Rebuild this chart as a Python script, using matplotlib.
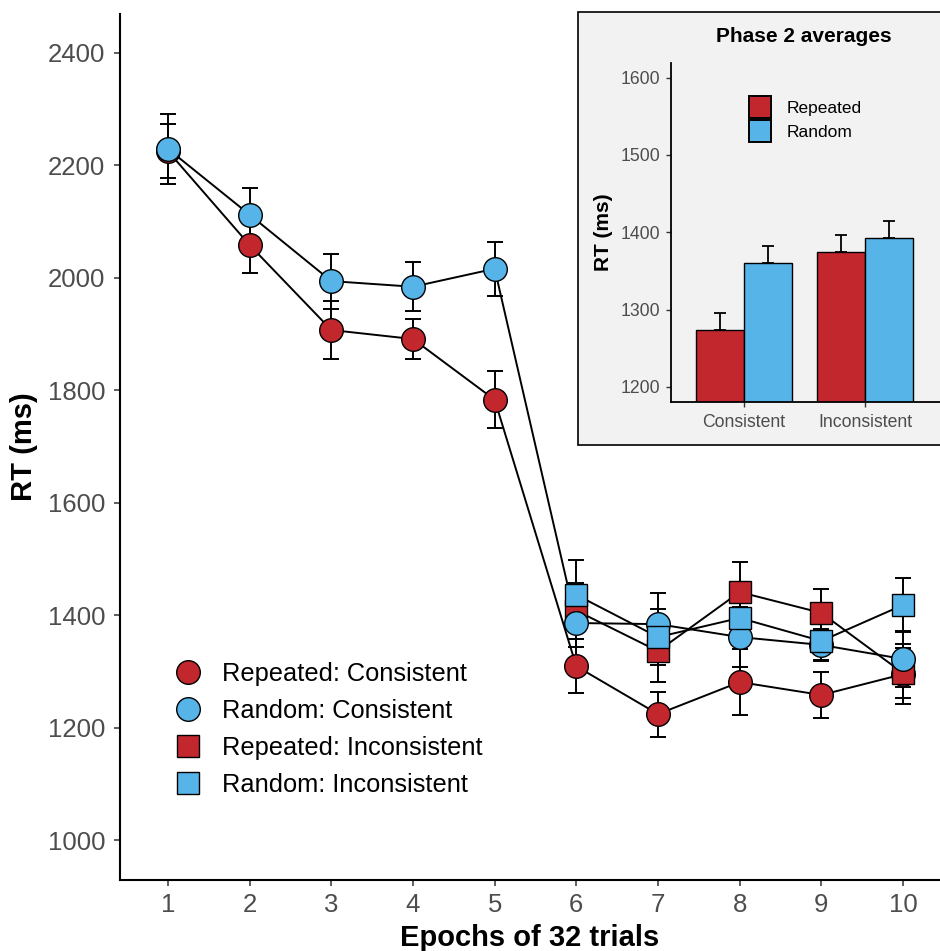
import matplotlib
matplotlib.use("Agg")
import matplotlib.pyplot as plt
from matplotlib.lines import Line2D
from matplotlib.patches import Rectangle
import numpy as np

plt.rcParams['font.family'] = ['Liberation Sans', 'DejaVu Sans']

# ---- data ----
epochs = [1, 2, 3, 4, 5, 6, 7, 8, 9, 10]
rep_con = [2225, 2058, 1907, 1891, 1783, 1309, 1224, 1281, 1258, 1295]
rep_con_se = [48, 49, 51, 36, 51, 48, 40, 59, 41, 53]
ran_con = [2229, 2112, 1994, 1984, 2016, 1386, 1384, 1361, 1347, 1322]
ran_con_se = [63, 48, 49, 44, 48, 43, 55, 53, 28, 50]
epochs_inc = [6, 7, 8, 9, 10]
rep_inc = [1408, 1336, 1441, 1404, 1297]
rep_inc_se = [50, 55, 54, 42, 45]
ran_inc = [1436, 1361, 1395, 1354, 1418]
ran_inc_se = [62, 50, 45, 34, 48]

inset_cats = ["Consistent", "Inconsistent"]
inset_rep = [1273, 1375]
inset_rep_se = [22, 22]
inset_ran = [1360, 1392]
inset_ran_se = [22, 22]

RED = "#C1272D"
BLUE = "#56B4E9"
GREY = "#4D4D4D"

fig = plt.figure(figsize=(9.40, 9.51), dpi=100)
ax = fig.add_axes([120/940, 1-880/951, 1-120/940, (880-14)/951])

series = [
    (epochs, rep_con, rep_con_se, RED, 'o', 17, 3.0),
    (epochs_inc, rep_inc, rep_inc_se, RED, 's', 15.5, 3.1),
    (epochs, ran_con, ran_con_se, BLUE, 'o', 17, 3.2),
    (epochs_inc, ran_inc, ran_inc_se, BLUE, 's', 15.5, 3.3),
]
for x, y, se, col, mk, ms, z in series:
    ax.plot(x, y, color='black', lw=1.4, zorder=1)
    ax.errorbar(x, y, yerr=se, fmt='none', ecolor='black', elinewidth=1.4,
                capsize=5.5, capthick=1.4, zorder=2)
    ax.plot(x, y, linestyle='none', marker=mk, ms=ms, mfc=col, mec='black',
            mew=1.0, zorder=z)

ax.set_xlim(0.412, 10.453)
ax.set_ylim(929, 2469)
ax.set_xticks(epochs)
ax.set_yticks([1000, 1200, 1400, 1600, 1800, 2000, 2200, 2400])
for s in ['top', 'right']:
    ax.spines[s].set_visible(False)
for s in ['left', 'bottom']:
    ax.spines[s].set_linewidth(1.5)
ax.tick_params(axis='both', labelsize=18.5, labelcolor=GREY, color='#333333',
               length=4.5, width=1.1)
ax.tick_params(axis='y', pad=6)
ax.tick_params(axis='x', pad=4.5)
ax.set_xlabel("Epochs of 32 trials", fontsize=21, fontweight='bold', labelpad=5.5)
ax.set_ylabel("RT (ms)", fontsize=21, fontweight='bold', labelpad=7)

handles = [
    Line2D([], [], linestyle='none', marker='o', ms=17, mfc=RED, mec='black', mew=1.0),
    Line2D([], [], linestyle='none', marker='o', ms=17, mfc=BLUE, mec='black', mew=1.0),
    Line2D([], [], linestyle='none', marker='s', ms=15.5, mfc=RED, mec='black', mew=1.0),
    Line2D([], [], linestyle='none', marker='s', ms=15.5, mfc=BLUE, mec='black', mew=1.0),
]
labels = ["Repeated: Consistent", "Random: Consistent",
          "Repeated: Inconsistent", "Random: Inconsistent"]
ax.legend(handles, labels, loc='center left', bbox_to_anchor=(176/940, 1-729.5/951),
          bbox_transform=fig.transFigure, frameon=False, fontsize=18.3,
          handlelength=0.95, handletextpad=0.85, labelspacing=0.51,
          borderpad=0, borderaxespad=0)

# ---- inset ----
rect = Rectangle((578/940, 1-445/951), 0.5, (445-12)/951, transform=fig.transFigure,
                 facecolor='#F2F2F2', edgecolor='black', lw=1.2, zorder=5)
fig.add_artist(rect)
iax = fig.add_axes([671/940, 1-402/951, 1-671/940, (402-63)/951], zorder=6)
iax.set_facecolor('#F2F2F2')
xc = np.arange(1, len(inset_cats)+1)
w = 0.4
iax.errorbar(xc - w/2, inset_rep, yerr=[[0]*2, inset_rep_se], fmt='none', ecolor='black',
             elinewidth=1.3, capsize=4.3, capthick=1.3, zorder=1)
iax.errorbar(xc + w/2, inset_ran, yerr=[[0]*2, inset_ran_se], fmt='none', ecolor='black',
             elinewidth=1.3, capsize=4.3, capthick=1.3, zorder=1)
iax.bar(xc - w/2, np.array(inset_rep) - 1000, bottom=1000, width=w, color=RED,
        edgecolor='black', lw=1.0, zorder=2)
iax.bar(xc + w/2, np.array(inset_ran) - 1000, bottom=1000, width=w, color=BLUE,
        edgecolor='black', lw=1.0, zorder=2)
iax.set_xlim(0.397, 2.62)
iax.set_ylim(1180.5, 1619)
iax.set_xticks(xc)
iax.set_xticklabels(inset_cats)
iax.set_yticks([1200, 1300, 1400, 1500, 1600])
for s in ['top', 'right']:
    iax.spines[s].set_visible(False)
for s in ['left', 'bottom']:
    iax.spines[s].set_linewidth(1.3)
iax.tick_params(axis='both', labelsize=12.7, labelcolor=GREY, color='#333333',
                length=3.5, width=1.0)
iax.tick_params(axis='y', pad=4.5)
iax.tick_params(axis='x', pad=5)
iax.set_ylabel("RT (ms)", fontsize=15, fontweight='bold', labelpad=5)
fig.text(804/940, 1-36/951, "Phase 2 averages", fontsize=15, fontweight='bold',
         ha='center', va='center', zorder=7)
ih = [Line2D([], [], linestyle='none', marker='s', ms=16.3, mfc=RED, mec='black', mew=1.4),
      Line2D([], [], linestyle='none', marker='s', ms=16.3, mfc=BLUE, mec='black', mew=1.4)]
iax.legend(ih, ["Repeated", "Random"], loc='center left',
           bbox_to_anchor=(748.7/940, 1-120.5/951), bbox_transform=fig.transFigure,
           frameon=False, fontsize=12.5, handlelength=1.3,
           handletextpad=0.9, labelspacing=0.48, borderpad=0, borderaxespad=0)

fig.savefig("out.png", dpi=100)
